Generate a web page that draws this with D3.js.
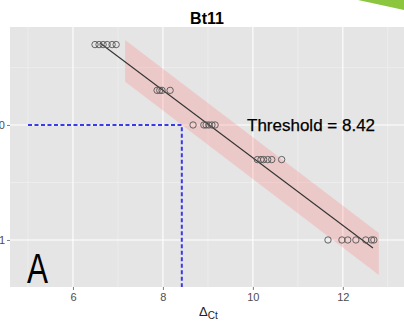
<!DOCTYPE html>
<html>
<head>
<meta charset="utf-8">
<script src="https://cdn.jsdelivr.net/npm/d3@7"></script>
<style>
  body { margin: 0; background: #fff; }
  svg { display: block; font-family: "Liberation Sans", Arial, sans-serif; }
</style>
</head>
<body>
<svg></svg>
<script>
let width = 404, height = 321;

// dilution levels (y, log scale) and the delta Ct of each replicate
let levels = [50, 20, 10, 5, 1];
let dct50 = [6.49, 6.58, 6.67, 6.76, 6.87, 6.96];
let dct20 = [7.87, 7.93, 7.98, 8.16];
let dct10 = [8.67, 8.91, 8.96, 9.02, 9.09, 9.16];
let dct5 = [10.1, 10.18, 10.24, 10.33, 10.42, 10.64];
let dct1 = [11.67, 11.98, 12.11, 12.29, 12.51, 12.64, 12.69];

// fitted line and its band
let fitX = [6.6, 12.67];
let fitY = [51.6, 0.852];
let bandX = [7.16, 12.8];
let bandHi = [54.8, 1.15];
let bandLo = [23.7, 0.496];

let threshold = 8.42, thresholdLevel = 10;
let xTicks = [6, 8, 10, 12], xMinor = [5, 7, 9, 11, 13];
let yTicks = [1, 10], yMinor = [Math.sqrt(10), Math.sqrt(1000)];

let svg = d3.select("svg")
  .attr("width", width)
  .attr("height", height);

let panel = {left: 10, right: 404, top: 27, bottom: 287};

let x = d3.scaleLinear().domain([4.6, 13.36]).range([panel.left, panel.right]);
let y = d3.scaleLog().domain([0.39, 71.1]).range([panel.bottom, panel.top]);

svg.append("rect")
  .attr("x", panel.left).attr("y", panel.top)
  .attr("width", panel.right - panel.left)
  .attr("height", panel.bottom - panel.top)
  .attr("fill", "#e5e5e5");

//grid: minor first, then major
svg.selectAll(".xminor").data(xMinor).enter().append("line")
  .attr("x1", d => x(d)).attr("x2", d => x(d))
  .attr("y1", panel.top).attr("y2", panel.bottom)
  .attr("stroke", "#f2f2f2").attr("stroke-width", 0.6);
svg.selectAll(".yminor").data(yMinor).enter().append("line")
  .attr("x1", panel.left).attr("x2", panel.right)
  .attr("y1", d => y(d)).attr("y2", d => y(d))
  .attr("stroke", "#f2f2f2").attr("stroke-width", 0.6);
svg.selectAll(".xmajor").data(xTicks).enter().append("line")
  .attr("x1", d => x(d)).attr("x2", d => x(d))
  .attr("y1", panel.top).attr("y2", panel.bottom)
  .attr("stroke", "#fff").attr("stroke-width", 1.1);
svg.selectAll(".ymajor").data(yTicks).enter().append("line")
  .attr("x1", panel.left).attr("x2", panel.right)
  .attr("y1", d => y(d)).attr("y2", d => y(d))
  .attr("stroke", "#fff").attr("stroke-width", 1.1);

// band
let band = bandX.map((d, i) => [x(d), y(bandHi[i])])
  .concat(bandX.map((d, i) => [x(d), y(bandLo[i])]).reverse());
svg.append("path")
  .attr("d", d3.line()(band) + "Z")
  .attr("fill", "rgba(255,120,120,0.25)");

// threshold guides
svg.append("path")
  .attr("d", d3.line()([[x(5), y(thresholdLevel)], [x(threshold), y(thresholdLevel)], [x(threshold), panel.bottom]]))
  .attr("fill", "none")
  .attr("stroke", "#3a3ae6")
  .attr("stroke-width", 2)
  .attr("stroke-dasharray", "4,2.5");

// fitted line
svg.append("line")
  .attr("x1", x(fitX[0])).attr("y1", y(fitY[0]))
  .attr("x2", x(fitX[1])).attr("y2", y(fitY[1]))
  .attr("stroke", "#333").attr("stroke-width", 1.1);

// points
let groups = [dct50, dct20, dct10, dct5, dct1];
let points = [];
groups.forEach((g, i) => g.forEach(v => points.push({x: v, y: levels[i]})));
svg.selectAll(".pt").data(points).enter().append("circle")
  .attr("cx", d => x(d.x))
  .attr("cy", d => y(d.y))
  .attr("r", 3.2)
  .attr("fill", "none")
  .attr("stroke", "#555")
  .attr("stroke-width", 0.9);

// axes
let xAxis = svg.append("g")
  .attr("transform", "translate(0," + panel.bottom + ")")
  .call(d3.axisBottom(x).tickValues(xTicks).tickSize(3).tickPadding(3).tickFormat(d3.format("d")));
let yAxis = svg.append("g")
  .attr("transform", "translate(" + panel.left + ",0)")
  .call(d3.axisLeft(y).tickValues(yTicks).tickSize(3).tickPadding(2).tickFormat(d3.format("d")));
[xAxis, yAxis].forEach(a => {
  a.select(".domain").remove();
  a.selectAll("line").attr("stroke", "#7f7f7f");
  a.selectAll("text").attr("fill", "#4d4d4d").style("font-size", "11px").style("font-family", "Liberation Sans, Arial, sans-serif");
});

// texts
svg.append("text")
  .attr("x", 207).attr("y", 24)
  .attr("text-anchor", "middle")
  .style("font-size", "16px").style("font-weight", "bold")
  .text("Bt11");

svg.append("text")
  .attr("x", 247).attr("y", 131)
  .style("font-size", "17px")
  .attr("stroke", "#000").attr("stroke-width", 0.25)
  .text("Threshold = 8.42");

svg.append("text")
  .attr("x", 27).attr("y", 283)
  .attr("textLength", 21).attr("lengthAdjust", "spacingAndGlyphs")
  .style("font-size", "43px")
  .text("A");

let xl = svg.append("text").attr("x", 199).attr("y", 316).style("font-size", "13px").attr("fill", "#222");
xl.append("tspan").text("Δ");
xl.append("tspan").attr("dy", 3).style("font-size", "10px").text("Ct");

// corner decoration
svg.append("path")
  .attr("d", "M358,0L404,0L404,10Z")
  .attr("fill", "#8cc63f");
</script>
</body>
</html>
